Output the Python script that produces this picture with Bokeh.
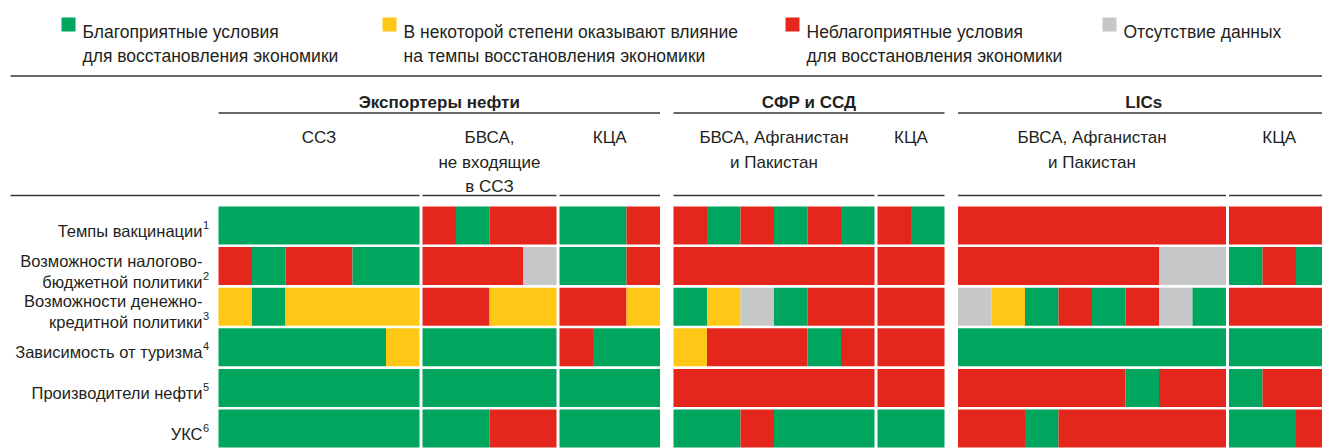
from bokeh.plotting import figure
from bokeh.models import Range1d, ColumnDataSource
from bokeh.embed import file_html
from bokeh.resources import INLINE
from bokeh.core.properties import value

# ---------------- data ----------------
status_codes = ["G", "Y", "R", "N"]
status_labels = [
    "Благоприятные условия\nдля восстановления экономики",
    "В некоторой степени оказывают влияние\nна темпы восстановления экономики",
    "Неблагоприятные условия\nдля восстановления экономики",
    "Отсутствие данных",
]
status_colors = ["#00a65d", "#ffc816", "#e5261d", "#c6c7c9"]

row_labels = [
    "Темпы вакцинации",
    "Возможности налогово-\nбюджетной политики",
    "Возможности денежно-\nкредитной политики",
    "Зависимость от туризма",
    "Производители нефти",
    "УКС",
]
row_notes = ["1", "2", "3", "4", "5", "6"]

group_names = ["Экспортеры нефти", "СФР и ССД", "LICs"]
subgroup_names = [
    "ССЗ",
    "БВСА,\nне входящие\nв ССЗ",
    "КЦА",
    "БВСА, Афганистан\nи Пакистан",
    "КЦА",
    "БВСА, Афганистан\nи Пакистан",
    "КЦА",
]
subgroup_parent = [0, 0, 0, 1, 1, 2, 2]

# one string per row, one letter per country
oil_ccz = ["GGGGGG", "RGRRGG", "YGYYYY", "GGGGGY", "GGGGGG", "GGGGGG"]
oil_mena = ["RGRR", "RRRN", "RRYY", "GGGG", "GGGG", "GGRR"]
oil_cca = ["GGR", "GGR", "RRY", "RGG", "GGG", "GGG"]
em_mena = ["RGRGRG", "RRRRRR", "GYNGRR", "YRRRGR", "RRRRRR", "GGRGGG"]
em_cca = ["RG", "RR", "RR", "RR", "RR", "GG"]
lic_mena = ["RRRRRRRR", "RRRRRRNN", "NYGRGRNG", "GGGGGGGG", "RRRRRGRR", "RRGRRRRR"]
lic_cca = ["RRR", "GRG", "RRR", "GGG", "GRR", "GGR"]
subgroup_cells = [oil_ccz, oil_mena, oil_cca, em_mena, em_cca, lic_mena, lic_cca]

# ---------------- layout ----------------
FONT = value("Liberation Sans")
TXT = "#231f20"
LINE = "#363636"
FS_HEAD = "17px"
FS_ROW = "16.5px"
FS_LEG = "17.5px"
CELL_W = 33.5
GAP_SUB = 3.0
GAP_GRP = 13.5
X0 = 218.0
ROW_TOP0 = 206.0
ROW_PITCH = 40.6
CELL_H = 38.0

p = figure(width=1322, height=448, output_backend="svg", toolbar_location=None,
           x_range=Range1d(0, 1322), y_range=Range1d(448, 0),
           x_axis_location=None, y_axis_location=None, min_border=0)
p.grid.visible = False
p.outline_line_color = None
p.background_fill_color = "white"

color_of = dict(zip(status_codes, status_colors))

# subgroup extents
sub_left, sub_right = [], []
x = X0
for i, cells in enumerate(subgroup_cells):
    if i > 0:
        x += GAP_SUB if subgroup_parent[i] == subgroup_parent[i - 1] else GAP_GRP
    n = len(cells[0])
    sub_left.append(x)
    sub_right.append(x + n * CELL_W)
    x = x + n * CELL_W

# cells (adjacent countries with the same status are drawn as one run)
L, R, T, B, C = [], [], [], [], []
for i, cells in enumerate(subgroup_cells):
    for r, row in enumerate(cells):
        top = ROW_TOP0 + r * ROW_PITCH
        k = 0
        while k < len(row):
            j = k
            while j + 1 < len(row) and row[j + 1] == row[k]:
                j += 1
            L.append(sub_left[i] + k * CELL_W)
            R.append(sub_left[i] + (j + 1) * CELL_W)
            T.append(top)
            B.append(top + CELL_H)
            C.append(color_of[row[k]])
            k = j + 1
p.quad(left="left", right="right", top="top", bottom="bottom", fill_color="color",
       line_color=None, source=ColumnDataSource(dict(left=L, right=R, top=T, bottom=B, color=C)))

# horizontal rules
sx0, sx1, sy = [], [], []
sx0.append(10); sx1.append(1330); sy.append(75.5)
for g in range(len(group_names)):
    idx = [i for i, pg in enumerate(subgroup_parent) if pg == g]
    sx0.append(sub_left[idx[0]]); sx1.append(sub_right[idx[-1]]); sy.append(112.5)
for i in range(len(subgroup_names)):
    sx0.append(10 if i == 0 else sub_left[i]); sx1.append(sub_right[i]); sy.append(195)
p.segment(x0=sx0, x1=sx1, y0=sy, y1=sy, line_color=LINE, line_width=1.7)

# group headers
gx, gy = [], []
for g in range(len(group_names)):
    idx = [i for i, pg in enumerate(subgroup_parent) if pg == g]
    gx.append((sub_left[idx[0]] + sub_right[idx[-1]]) / 2)
    gy.append(102)
p.text(x=gx, y=gy, text=group_names, text_font=FONT, text_font_size=FS_HEAD,
       text_font_style="bold", text_color=TXT, text_align="center", text_baseline="alphabetic")

# subgroup headers
hx, hy, ht = [], [], []
for i, name in enumerate(subgroup_names):
    for j, line in enumerate(name.split("\n")):
        hx.append((sub_left[i] + sub_right[i]) / 2)
        hy.append(137 + j * 24.5)
        ht.append(line)
p.text(x=hx, y=hy, text=ht, text_font=FONT, text_font_size=FS_HEAD, text_color=TXT,
       text_align="center", text_baseline="alphabetic")

# row labels
rx, ry, rt, nx, ny = [], [], [], [], []
for r, lab in enumerate(row_labels):
    c = ROW_TOP0 + r * ROW_PITCH + CELL_H / 2
    lines = lab.split("\n")
    if len(lines) == 1:
        ys = [c + 5]
    else:
        ys = [c - 5.5, c + 15.5]
    for line, yy in zip(lines, ys):
        rx.append(202); ry.append(yy); rt.append(line)
    nx.append(202.5); ny.append(ys[-1] - 6)
p.text(x=rx, y=ry, text=rt, text_font=FONT, text_font_size=FS_ROW, text_color=TXT,
       text_align="right", text_baseline="alphabetic")
p.text(x=nx, y=ny, text=row_notes, text_font=FONT, text_font_size="11px", text_color=TXT,
       text_align="left", text_baseline="alphabetic")

# legend
leg_x = [61, 382, 785, 1102]
p.quad(left=leg_x, right=[v + 14 for v in leg_x], top=[17] * 4, bottom=[31] * 4,
       fill_color=status_colors, line_color=None)
lx, ly, lt = [], [], []
for i, lab in enumerate(status_labels):
    for j, line in enumerate(lab.split("\n")):
        lx.append(leg_x[i] + 21); ly.append(31.5 + j * 23.5); lt.append(line)
p.text(x=lx, y=ly, text=lt, text_font=FONT, text_font_size=FS_LEG, text_color=TXT,
       text_align="left", text_baseline="alphabetic")

open("out.html", "w").write(file_html(p, INLINE))
